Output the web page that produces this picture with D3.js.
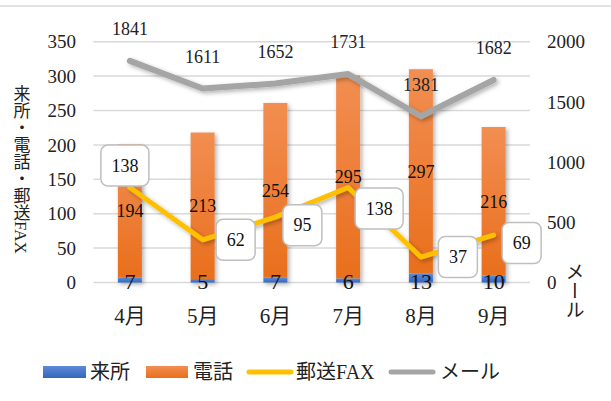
<!DOCTYPE html>
<html>
<head>
<meta charset="utf-8">
<script src="https://cdn.jsdelivr.net/npm/d3@7"></script>
<style>
	body { margin: 0; background: #fff; }
	svg { display: block; }
</style>
</head>
<body>
<svg id="chart" width="611" height="401"></svg>
<script>
// data
var months = ["4月", "5月", "6月", "7月", "8月", "9月"];
var visit = [7, 5, 7, 6, 13, 10];        // 来所
var phone = [194, 213, 254, 295, 297, 216]; // 電話
var faxMail = [138, 62, 95, 138, 37, 69];   // 郵送FAX
var email = [1841, 1611, 1652, 1731, 1381, 1682]; // メール
var leftTicks = [0, 50, 100, 150, 200, 250, 300, 350];
var rightTicks = [0, 500, 1000, 1500, 2000];
var seriesNames = ["来所", "電話", "郵送FAX", "メール"];

// callout box offsets for 郵送FAX labels (dx, dy from point)
var faxLabelOffset = [[-5, -22], [33, 0], [27, 8], [31, 21], [37, 0], [28, 8]];

var serif = "'Liberation Serif', 'Noto Sans CJK JP', 'Times New Roman', serif";

var svg = d3.select("#chart");
var defs = svg.append("defs");

var gOrange = defs.append("linearGradient").attr("id", "gOrange")
	.attr("x1", 0).attr("y1", 0).attr("x2", 0).attr("y2", 1);
gOrange.append("stop").attr("offset", "0%").attr("stop-color", "#f28e52");
gOrange.append("stop").attr("offset", "100%").attr("stop-color", "#e96f1c");

var gBlue = defs.append("linearGradient").attr("id", "gBlue")
	.attr("x1", 0).attr("y1", 0).attr("x2", 0).attr("y2", 1);
gBlue.append("stop").attr("offset", "0%").attr("stop-color", "#5d8ad6");
gBlue.append("stop").attr("offset", "100%").attr("stop-color", "#3566bd");

var shadow = defs.append("filter").attr("id", "shadow")
	.attr("x", "-20%").attr("y", "-20%").attr("width", "150%").attr("height", "150%");
shadow.append("feDropShadow").attr("dx", 2).attr("dy", 2)
	.attr("stdDeviation", 2).attr("flood-color", "#000").attr("flood-opacity", 0.3);

// top border
svg.append("line").attr("x1", 0).attr("x2", 611).attr("y1", 6).attr("y2", 6)
	.attr("stroke", "#d9d9d9").attr("stroke-width", 1.5);

var x = d3.scaleBand()
	.domain(months)
	.range([93.5, 530])
	.paddingInner(0.67)
	.paddingOuter(0.335);

var y = d3.scaleLinear().domain([0, 350]).range([282.5, 41.7]);
var y2 = d3.scaleLinear().domain([0, 2000]).range([282.5, 41.7]);

var cx = function(i) { return x(months[i]) + x.bandwidth() / 2; };

// gridlines
svg.append("g")
	.selectAll("line")
	.data(leftTicks)
	.join("line")
	.attr("x1", 93.5).attr("x2", 530)
	.attr("y1", d => y(d)).attr("y2", d => y(d))
	.attr("stroke", "#d9d9d9").attr("stroke-width", 1.5);

// left axis labels
svg.append("g")
	.selectAll("text")
	.data(leftTicks)
	.join("text")
	.attr("x", 76).attr("y", d => y(d))
	.attr("dy", "0.35em")
	.attr("text-anchor", "end")
	.style("font", "19px " + serif)
	.attr("fill", "#222")
	.text(d => d);

// right axis labels
svg.append("g")
	.selectAll("text")
	.data(rightTicks)
	.join("text")
	.attr("x", 547).attr("y", d => y2(d))
	.attr("dy", "0.35em")
	.attr("text-anchor", "start")
	.style("font", "19px " + serif)
	.attr("fill", "#222")
	.text(d => d);

// axis titles
svg.append("text")
	.attr("transform", "translate(20,85)")
	.style("writing-mode", "vertical-rl")
	.style("font", "17px " + serif)
	.attr("fill", "#222")
	.text("来所・電話・郵送FAX");

svg.append("text")
	.attr("transform", "translate(573,262)")
	.style("writing-mode", "vertical-rl")
	.style("font", "19px " + serif)
	.attr("fill", "#222")
	.text("メール");

// month labels
svg.append("g")
	.selectAll("text")
	.data(months)
	.join("text")
	.attr("x", d => x(d) + x.bandwidth() / 2)
	.attr("y", 316)
	.attr("dy", "0.35em")
	.attr("text-anchor", "middle")
	.style("font", "21px " + serif)
	.attr("fill", "#222")
	.text(d => d);

// stacked bars
var table = months.map((m, i) => ({ month: m, visit: visit[i], phone: phone[i] }));
var stacked = d3.stack().keys(["visit", "phone"])(table);
var fills = { visit: "url(#gBlue)", phone: "url(#gOrange)" };

svg.append("g")
	.attr("filter", "url(#shadow)")
	.selectAll("g")
	.data(stacked)
	.join("g")
	.attr("fill", d => fills[d.key])
	.selectAll("rect")
	.data(d => d)
	.join("rect")
	.attr("x", d => x(d.data.month))
	.attr("width", x.bandwidth())
	.attr("y", d => y(d[1]))
	.attr("height", d => y(d[0]) - y(d[1]));

// mail line (right axis)
var line2 = d3.line().x((d, i) => cx(i)).y(d => y2(d));
svg.append("path")
	.datum(email)
	.attr("d", line2)
	.attr("fill", "none")
	.attr("stroke", "#a5a5a5")
	.attr("stroke-width", 6)
	.attr("stroke-linecap", "round")
	.attr("stroke-linejoin", "round")
	.attr("filter", "url(#shadow)");

// fax line (left axis)
var line1 = d3.line().x((d, i) => cx(i)).y(d => y(d));
svg.append("path")
	.datum(faxMail)
	.attr("d", line1)
	.attr("fill", "none")
	.attr("stroke", "#ffc000")
	.attr("stroke-width", 5)
	.attr("stroke-linecap", "round")
	.attr("stroke-linejoin", "round")
	.attr("filter", "url(#shadow)");

// phone labels (middle of segment)
svg.append("g")
	.selectAll("text")
	.data(stacked[1])
	.join("text")
	.attr("x", d => x(d.data.month) + x.bandwidth() / 2)
	.attr("y", d => (y(d[0]) + y(d[1])) / 2)
	.attr("dy", "0.35em")
	.attr("text-anchor", "middle")
	.style("font", "18px " + serif)
	.attr("fill", "#111")
	.text(d => d.data.phone);

// visit labels
svg.append("g")
	.selectAll("text")
	.data(stacked[0])
	.join("text")
	.attr("x", d => x(d.data.month) + x.bandwidth() / 2)
	.attr("y", 281)
	.attr("dy", "0.35em")
	.attr("text-anchor", "middle")
	.style("font", "22px " + serif)
	.attr("fill", "#111")
	.text(d => d.data.visit);

// mail labels
svg.append("g")
	.selectAll("text")
	.data(email)
	.join("text")
	.attr("x", (d, i) => cx(i))
	.attr("y", d => y2(d) - 32)
	.attr("dy", "0.35em")
	.attr("text-anchor", "middle")
	.style("font", "18px " + serif)
	.attr("fill", "#222")
	.text(d => d);

// fax callouts
var faxLabels = svg.append("g")
	.selectAll("g")
	.data(faxMail)
	.join("g")
	.attr("transform", (d, i) => `translate(${cx(i) + faxLabelOffset[i][0]},${y(d) + faxLabelOffset[i][1]})`);

faxLabels.append("text")
	.attr("text-anchor", "middle")
	.attr("dy", "0.35em")
	.style("font", "18px " + serif)
	.attr("fill", "#111")
	.text(d => d);

faxLabels.each(function() {
	var g = d3.select(this);
	var w = g.select("text").node().getComputedTextLength() + 21;
	g.insert("rect", "text")
		.attr("x", -w / 2).attr("y", -20.5)
		.attr("width", w).attr("height", 41)
		.attr("rx", 7)
		.attr("fill", "#fff")
		.attr("stroke", "#bfbfbf")
		.attr("stroke-width", 1.5);
});

// legend
var legend = svg.append("g");
legend.append("rect").attr("x", 43).attr("y", 366).attr("width", 43).attr("height", 12).attr("fill", "url(#gBlue)");
legend.append("rect").attr("x", 146).attr("y", 366).attr("width", 42).attr("height", 12).attr("fill", "url(#gOrange)");
legend.append("line").attr("x1", 249).attr("x2", 291).attr("y1", 372).attr("y2", 372)
	.attr("stroke", "#ffc000").attr("stroke-width", 5).attr("stroke-linecap", "round");
legend.append("line").attr("x1", 391).attr("x2", 433).attr("y1", 372).attr("y2", 372)
	.attr("stroke", "#a5a5a5").attr("stroke-width", 5).attr("stroke-linecap", "round");

var legendX = [90, 193, 296, 440];
legend.selectAll("text")
	.data(seriesNames)
	.join("text")
	.attr("x", (d, i) => legendX[i])
	.attr("y", 372)
	.attr("dy", "0.35em")
	.style("font", "20px " + serif)
	.attr("fill", "#222")
	.text(d => d);
</script>
</body>
</html>
